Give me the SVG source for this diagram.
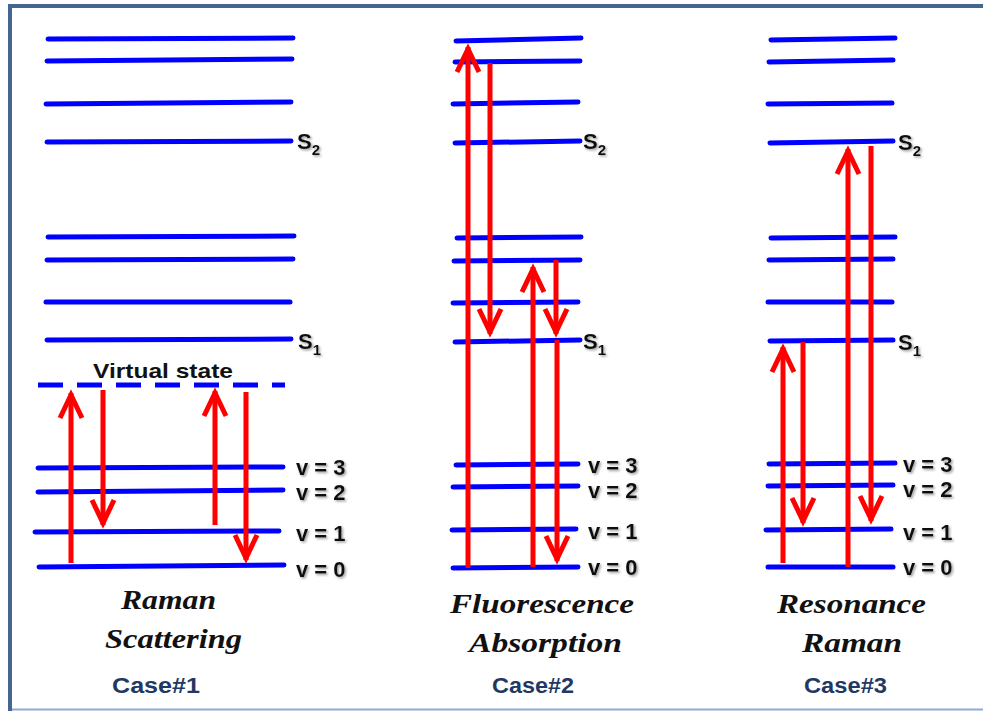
<svg xmlns="http://www.w3.org/2000/svg" width="983" height="711" viewBox="0 0 983 711">
<style>
.lv{stroke:#0000ff;stroke-width:5;stroke-linecap:round;fill:none}
.dash{stroke-dasharray:25 14;stroke-linecap:butt}
.ar{stroke:#ff0000;stroke-width:5;fill:none;marker-end:url(#head)}
.lb{font-family:"Liberation Sans",Arial,sans-serif;font-weight:bold;font-size:22px;fill:#111;filter:url(#sh)}
.sub{font-size:15px}
.ttl{font-family:"Liberation Serif","Times New Roman",serif;font-weight:bold;font-style:italic;font-size:28px;fill:#111}
.case{font-family:"Liberation Sans",Arial,sans-serif;font-weight:bold;font-size:22px;fill:#1f3864}
.vs{font-family:"Liberation Sans",Arial,sans-serif;font-weight:bold;font-size:21px;fill:#111}
</style>
<defs>
<filter id="sh" x="-20%" y="-20%" width="150%" height="150%">
<feDropShadow dx="1.5" dy="1.5" stdDeviation="1" flood-color="#777" flood-opacity="0.7"/>
</filter>
<marker id="head" markerUnits="userSpaceOnUse" viewBox="-30 -15 40 30" markerWidth="40" markerHeight="30" refX="0" refY="0" orient="auto" overflow="visible">
<path d="M-25,-11 L-2,0 L-25,11" stroke="#ff0000" stroke-width="5" fill="none" stroke-linejoin="miter"/>
</marker>
</defs>
<rect x="0" y="0" width="983" height="711" fill="#ffffff"/>
<g id="frame">
<line x1="8" y1="6" x2="983" y2="6" stroke="#45678f" stroke-width="4"/>
<line x1="10" y1="4" x2="10" y2="711" stroke="#45678f" stroke-width="4"/>
<line x1="12" y1="709.5" x2="983" y2="709.5" stroke="#8eaad6" stroke-width="2"/>
</g>
<g id="case1">
<line class="lv" x1="48" y1="39" x2="293" y2="38"/>
<line class="lv" x1="47" y1="61" x2="292" y2="59"/>
<line class="lv" x1="46" y1="104" x2="291" y2="102"/>
<line class="lv" x1="47" y1="142" x2="291" y2="141"/>
<line class="lv" x1="48" y1="237" x2="294" y2="236"/>
<line class="lv" x1="47" y1="260" x2="293" y2="259"/>
<line class="lv" x1="46" y1="302" x2="290" y2="302"/>
<line class="lv" x1="47" y1="340" x2="291" y2="339"/>
<line class="lv dash" x1="38" y1="385" x2="285" y2="385"/>
<line class="lv" x1="38" y1="468" x2="283" y2="467"/>
<line class="lv" x1="38" y1="492" x2="283" y2="490"/>
<line class="lv" x1="35" y1="532" x2="279" y2="531"/>
<line class="lv" x1="39" y1="567" x2="284" y2="565"/>
<text class="lb" x="297" y="149">S<tspan class="sub" dy="6">2</tspan></text>
<text class="lb" x="298" y="349">S<tspan class="sub" dy="6">1</tspan></text>
<text class="vs" x="93" y="378" textLength="140" lengthAdjust="spacingAndGlyphs">Virtual state</text>
<text class="lb" x="296" y="475">v = 3</text>
<text class="lb" x="296" y="500">v = 2</text>
<text class="lb" x="296" y="541">v = 1</text>
<text class="lb" x="296" y="577">v = 0</text>
<text class="ttl" x="121" y="609" textLength="95" lengthAdjust="spacingAndGlyphs">Raman</text>
<text class="ttl" x="105" y="648" textLength="137" lengthAdjust="spacingAndGlyphs">Scattering</text>
<text class="case" x="112" y="693" textLength="88" lengthAdjust="spacingAndGlyphs">Case#1</text>
</g>
<g id="case2">
<line class="lv" x1="456" y1="41" x2="581" y2="38"/>
<line class="lv" x1="455" y1="62" x2="580" y2="61"/>
<line class="lv" x1="453" y1="104" x2="578" y2="102"/>
<line class="lv" x1="455" y1="143" x2="580" y2="141"/>
<line class="lv" x1="457" y1="238" x2="581" y2="237"/>
<line class="lv" x1="454" y1="261" x2="580" y2="260"/>
<line class="lv" x1="453" y1="303" x2="578" y2="302"/>
<line class="lv" x1="455" y1="342" x2="580" y2="340"/>
<line class="lv" x1="456" y1="465" x2="578" y2="464"/>
<line class="lv" x1="453" y1="487" x2="578" y2="486"/>
<line class="lv" x1="452" y1="530" x2="576" y2="529"/>
<line class="lv" x1="453" y1="568" x2="578" y2="567"/>
<text class="lb" x="583" y="149">S<tspan class="sub" dy="6">2</tspan></text>
<text class="lb" x="583" y="349">S<tspan class="sub" dy="6">1</tspan></text>
<text class="lb" x="588" y="473">v = 3</text>
<text class="lb" x="588" y="498">v = 2</text>
<text class="lb" x="588" y="539">v = 1</text>
<text class="lb" x="588" y="575">v = 0</text>
<text class="ttl" x="450" y="613" textLength="184" lengthAdjust="spacingAndGlyphs">Fluorescence</text>
<text class="ttl" x="469" y="652" textLength="153" lengthAdjust="spacingAndGlyphs">Absorption</text>
<text class="case" x="492" y="693" textLength="82" lengthAdjust="spacingAndGlyphs">Case#2</text>
</g>
<g id="case3">
<line class="lv" x1="771" y1="40" x2="895" y2="38"/>
<line class="lv" x1="769" y1="62" x2="893" y2="60"/>
<line class="lv" x1="768" y1="104" x2="892" y2="103"/>
<line class="lv" x1="770" y1="143" x2="893" y2="141"/>
<line class="lv" x1="771" y1="238" x2="895" y2="237"/>
<line class="lv" x1="769" y1="260" x2="893" y2="259"/>
<line class="lv" x1="768" y1="302" x2="892" y2="302"/>
<line class="lv" x1="770" y1="341" x2="893" y2="340"/>
<line class="lv" x1="769" y1="464" x2="895" y2="463"/>
<line class="lv" x1="768" y1="486" x2="893" y2="485"/>
<line class="lv" x1="766" y1="530" x2="891" y2="529"/>
<line class="lv" x1="768" y1="567" x2="893" y2="567"/>
<text class="lb" x="898" y="150">S<tspan class="sub" dy="6">2</tspan></text>
<text class="lb" x="898" y="350">S<tspan class="sub" dy="6">1</tspan></text>
<text class="lb" x="903" y="472">v = 3</text>
<text class="lb" x="903" y="497">v = 2</text>
<text class="lb" x="903" y="540">v = 1</text>
<text class="lb" x="903" y="575">v = 0</text>
<text class="ttl" x="777" y="613" textLength="149" lengthAdjust="spacingAndGlyphs">Resonance</text>
<text class="ttl" x="802" y="652" textLength="100" lengthAdjust="spacingAndGlyphs">Raman</text>
<text class="case" x="804" y="693" textLength="83" lengthAdjust="spacingAndGlyphs">Case#3</text>
</g>
<g id="connectors">
<line class="ar" x1="71" y1="563" x2="71" y2="393"/>
<line class="ar" x1="103" y1="390" x2="103" y2="525"/>
<line class="ar" x1="215" y1="525" x2="215" y2="391"/>
<line class="ar" x1="246" y1="392" x2="246" y2="560"/>
<line class="ar" x1="468" y1="568" x2="468" y2="47"/>
<line class="ar" x1="490" y1="63" x2="490" y2="334"/>
<line class="ar" x1="533" y1="567" x2="533" y2="267"/>
<line class="ar" x1="556" y1="260" x2="556" y2="334"/>
<line class="ar" x1="557" y1="340" x2="557" y2="561"/>
<line class="ar" x1="848" y1="567" x2="848" y2="149"/>
<line class="ar" x1="871" y1="146" x2="871" y2="521"/>
<line class="ar" x1="783" y1="563" x2="783" y2="347"/>
<line class="ar" x1="803" y1="342" x2="803" y2="523"/>
</g>
</svg>
